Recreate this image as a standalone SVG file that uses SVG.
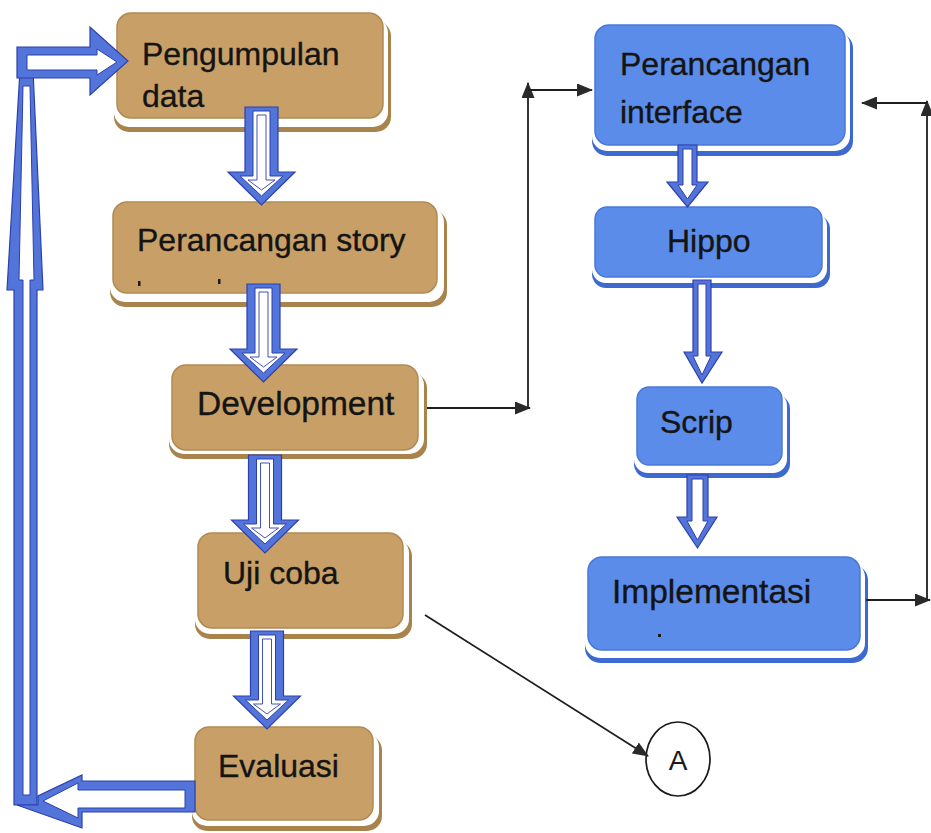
<svg xmlns="http://www.w3.org/2000/svg" xmlns:xlink="http://www.w3.org/1999/xlink" width="931" height="833" viewBox="0 0 931 833">
<style>
  .lbl { font-family: "Liberation Sans", Arial, sans-serif; font-size: 32px; fill: #141414; stroke: #141414; stroke-width: 0.35; }
  .lbl.w { font-size: 33.5px; }
  .tan { fill: #c8a067; stroke: #b08a52; stroke-width: 1.5; }
  .tan-sh { fill: #a8844c; }
  .blu { fill: #5b8ce9; stroke: #4a78d8; stroke-width: 1.5; }
  .blu-sh { fill: #3d6ad0; }
  .gap { fill: #ffffff; }
  .ba-o { fill: #5375da; stroke: #2c40ad; stroke-width: 1.2; }
  .ba-m { fill: #ffffff; stroke: #2c40ad; stroke-width: 1; }
  .ba-i { fill: none; stroke: #2c40ad; stroke-width: 0.9; }
  .con { fill: none; stroke: #1e1e1e; stroke-width: 1.8; marker-end: url(#tri); }
</style>
<defs>
  <marker id="tri" markerUnits="userSpaceOnUse" markerWidth="16" markerHeight="13" refX="15" refY="6.5" orient="auto">
    <path d="M0,0 L16,6.5 L0,13 Z" fill="#2a2a2a"/>
  </marker>
  <g id="darr">
    <polygon class="ba-o" points="-16.5,0 16.5,0 16.5,65 33.5,65 0,98 -33.5,65 -16.5,65"/>
    <polygon class="ba-m" points="-8.5,4 8.5,4 8.5,69 21.5,69 0,89 -21.5,69 -8.5,69"/>
    <polygon class="ba-i" points="-4.5,8 4.5,8 4.5,73 13.5,73 0,83 -13.5,73 -4.5,73"/>
  </g>
</defs>
<rect width="931" height="833" fill="#ffffff"/>

<!-- Brown nodes -->
<g id="n-pengumpulan">
  <rect class="tan-sh" x="114" y="21" width="277" height="111" rx="15"/>
  <rect class="gap" x="114" y="18" width="274" height="109" rx="15"/>
  <rect class="tan" x="117" y="13" width="266" height="105" rx="14"/>
  <text class="lbl" x="142" y="65">Pengumpulan</text>
  <text class="lbl" x="142" y="107">data</text>
</g>
<g id="n-story">
  <rect class="tan-sh" x="110" y="210" width="337" height="97" rx="15"/>
  <rect class="gap" x="110" y="207" width="334" height="95" rx="15"/>
  <rect class="tan" x="113" y="202" width="324" height="91" rx="14"/>
  <text class="lbl" x="137" y="251">Perancangan story</text>
  <rect x="138" y="281" width="2.5" height="5" fill="#1a1a1a"/>
  <rect x="218" y="279" width="2.5" height="5" fill="#1a1a1a"/>
</g>
<g id="n-development">
  <rect class="tan-sh" x="169" y="373" width="258" height="86" rx="15"/>
  <rect class="gap" x="169" y="370" width="255" height="84" rx="15"/>
  <rect class="tan" x="172" y="365" width="246" height="85" rx="14"/>
  <text class="lbl w" x="197" y="415">Development</text>
</g>
<g id="n-ujicoba">
  <rect class="tan-sh" x="195" y="541" width="217" height="98" rx="15"/>
  <rect class="gap" x="195" y="538" width="214" height="96" rx="15"/>
  <rect class="tan" x="198" y="533" width="205" height="95" rx="14"/>
  <text class="lbl" x="223" y="584">Uji coba</text>
</g>
<g id="n-evaluasi">
  <rect class="tan-sh" x="192" y="735" width="190" height="96" rx="15"/>
  <rect class="gap" x="192" y="732" width="187" height="94" rx="15"/>
  <rect class="tan" x="195" y="727" width="178" height="93" rx="14"/>
  <text class="lbl" x="218" y="777">Evaluasi</text>
</g>

<!-- Blue nodes -->
<g id="n-interface">
  <rect class="blu-sh" x="592" y="33" width="261" height="123" rx="15"/>
  <rect class="gap" x="592" y="30" width="258" height="121" rx="15"/>
  <rect class="blu" x="595" y="25" width="250" height="120" rx="14"/>
  <text class="lbl" x="620" y="75">Perancangan</text>
  <text class="lbl" x="620" y="123">interface</text>
</g>
<g id="n-hippo">
  <rect class="blu-sh" x="592" y="215" width="238" height="73" rx="14"/>
  <rect class="gap" x="592" y="212" width="235" height="71" rx="14"/>
  <rect class="blu" x="595" y="207" width="227" height="70" rx="12"/>
  <text class="lbl" x="667" y="252">Hippo</text>
</g>
<g id="n-scrip">
  <rect class="blu-sh" x="634" y="395" width="156" height="83" rx="14"/>
  <rect class="gap" x="634" y="392" width="153" height="81" rx="14"/>
  <rect class="blu" x="637" y="387" width="145" height="78" rx="12"/>
  <text class="lbl" x="660" y="433">Scrip</text>
</g>
<g id="n-implementasi">
  <rect class="blu-sh" x="585" y="565" width="283" height="98" rx="15"/>
  <rect class="gap" x="585" y="562" width="280" height="96" rx="15"/>
  <rect class="blu" x="588" y="557" width="272" height="93" rx="14"/>
  <text class="lbl w" x="612" y="603">Implementasi</text>
  <rect x="658" y="634" width="3" height="3" fill="#1a1a1a"/>
</g>
<g id="n-a">
  <ellipse cx="678" cy="759" rx="32" ry="37" fill="#ffffff" stroke="#1a1a1a" stroke-width="1.7"/>
  <text x="678" y="770" text-anchor="middle" font-family="Liberation Sans, Arial, sans-serif" font-size="28" fill="#1a1a1a">A</text>
</g>

<!-- Connectors -->
<g id="connectors">
  <!-- block arrows, brown column -->
  <use xlink:href="#darr" href="#darr" transform="translate(261.5,107)"/>
  <use xlink:href="#darr" href="#darr" transform="translate(263.5,284)"/>
  <use xlink:href="#darr" href="#darr" transform="translate(265,455)"/>
  <use xlink:href="#darr" href="#darr" transform="translate(267,631)"/>

  <!-- block arrows, blue column -->
  <polygon class="ba-o" points="678,145 697,145 697,182 708,182 687.5,207 667,182 678,182"/>
  <polygon class="ba-m" points="683,149 692,149 692,185 697,185 687.5,199 678,185 683,185"/>
  <polygon class="ba-o" points="693,280 711,280 711,352 722,352 702,383 684,352 693,352"/>
  <polygon class="ba-m" points="698,284 706,284 706,356 711,356 702,375 693,356 698,356"/>
  <polygon class="ba-o" points="687,475 708,475 708,517 717,517 697.5,548 677,517 687,517"/>
  <polygon class="ba-m" points="692,479 703,479 703,521 708,521 697.5,540 687,521 692,521"/>

  <!-- feedback loop: Evaluasi back to Pengumpulan data -->
  <polygon class="ba-o" points="20,70 33,70 43,290 37,290 37,805 14,805 14,290 7,290"/>
  <polygon class="ba-o" points="195,781 82,781 82,775 38,796 38,805 17,805 82,828 82,812 195,812"/>
  <polygon class="ba-o" points="17,47 90,47 90,27 128,61 90,95 90,78 17,78"/>
  <polygon class="ba-m" points="27,55 97,55 97,49 117,62 97,75 97,70 27,70"/>
  <polygon class="ba-m" points="23,86 30,86 34,280 30,280 30,795 23,795 23,280 19,280"/>
  <polygon class="ba-m" points="185,790 78,790 78,783 43,801 78,818 78,808 185,808"/>

  <!-- thin connectors -->
  <path class="con" d="M427,408 H530"/>
  <path class="con" d="M528,408 V83"/>
  <path class="con" d="M528,90 H592"/>
  <path class="con" d="M866,600 H930"/>
  <path class="con" d="M927,600 V101"/>
  <path class="con" d="M927,103 H862"/>
  <path class="con" d="M425,615 L648,756"/>
</g>
</svg>
